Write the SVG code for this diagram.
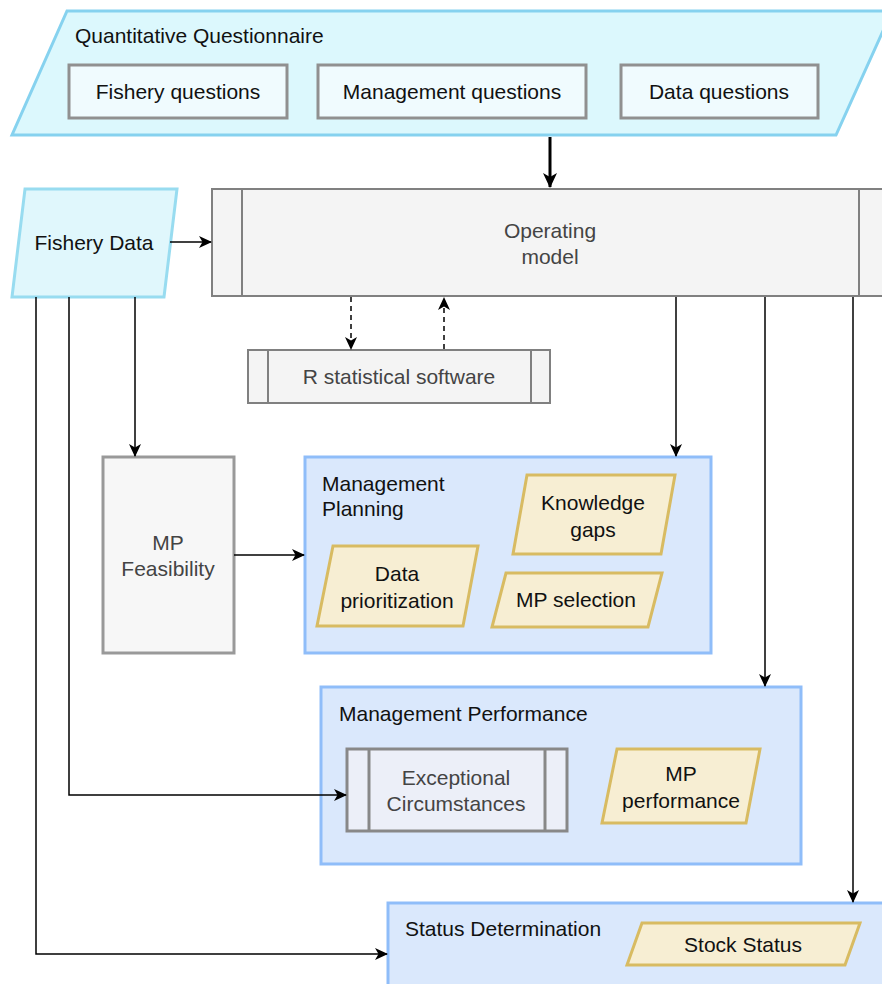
<svg xmlns="http://www.w3.org/2000/svg" width="882" height="984" viewBox="0 0 882 984">
<style>
text{font-family:"Liberation Sans",Arial,sans-serif;font-size:21px;fill:#111}
.c{text-anchor:middle}
.g{fill:#444}
.qbox{fill:#f0fbfe;stroke:#909090;stroke-width:3}
.sub{fill:#f4f4f4;stroke:#808080;stroke-width:2}
.blue{fill:#dae8fc;stroke:#8fbdf9;stroke-width:3}
.yel{fill:#f7eed3;stroke:#d8bb62;stroke-width:3}
.cyan{fill:#dcf8fd;stroke:#86d2ef;stroke-width:3}
.ln{fill:none;stroke:#000;stroke-width:1.5}
</style>
<defs>
<marker id="ah" markerWidth="14" markerHeight="12" refX="12" refY="6" orient="auto" markerUnits="userSpaceOnUse">
<path d="M0,0 L13,6 L0,12 L3.5,6 z" fill="#000"/>
</marker>
<marker id="ahb" markerWidth="16" markerHeight="14" refX="14" refY="7" orient="auto" markerUnits="userSpaceOnUse">
<path d="M0,0 L15,7 L0,14 L4,7 z" fill="#000"/>
</marker>
</defs>
<g id="questionnaire">
<polygon class="cyan" points="67,11 892,11 836,135 12,135"/>
<text x="75" y="43">Quantitative Questionnaire</text>
</g>
<g id="fishery-questions"><rect class="qbox" x="69" y="65" width="218" height="53"/><text class="c" x="178" y="98.5">Fishery questions</text></g>
<g id="management-questions"><rect class="qbox" x="318" y="65" width="268" height="53"/><text class="c" x="452" y="98.5">Management questions</text></g>
<g id="data-questions"><rect class="qbox" x="621" y="65" width="197" height="53"/><text class="c" x="719" y="98.5">Data questions</text></g>
<g id="fishery-data">
<polygon class="cyan" points="25,189 177,189 164,297 12,297" style="fill:#e0f7fc;stroke:#98dcf0"/>
<text x="94" y="249.5" class="c">Fishery Data</text>
</g>
<g id="operating-model">
<rect class="sub" x="212" y="189" width="690" height="107"/>
<line x1="242" y1="189" x2="242" y2="296" stroke="#808080" stroke-width="2"/>
<line x1="859" y1="189" x2="859" y2="296" stroke="#808080" stroke-width="2"/>
<text class="c g" x="550" y="237.5">Operating</text>
<text class="c g" x="550" y="263.5">model</text>
</g>
<g id="r-software">
<rect class="sub" x="248" y="350" width="302" height="53"/>
<line x1="268" y1="350" x2="268" y2="403" stroke="#808080" stroke-width="2"/>
<line x1="531" y1="350" x2="531" y2="403" stroke="#808080" stroke-width="2"/>
<text class="c g" x="399" y="383.5">R statistical software</text>
</g>
<g id="mp-feasibility">
<rect x="103" y="457" width="131" height="196" fill="#f7f7f7" stroke="#999" stroke-width="3"/>
<text class="c g" x="168" y="549.5">MP</text>
<text class="c g" x="168" y="575.5">Feasibility</text>
</g>
<g id="management-planning">
<rect class="blue" x="305" y="457" width="406" height="196"/>
<text x="322" y="490.5">Management</text>
<text x="322" y="515.5">Planning</text>
</g>
<g id="knowledge-gaps"><polygon class="yel" points="527,475 675,475 661,554 513,554"/><text class="c" x="593" y="509.5">Knowledge</text><text class="c" x="593" y="536.5">gaps</text></g>
<g id="data-prioritization"><polygon class="yel" points="333,546 478,546 463,626 317,626"/><text class="c" x="397" y="580.5">Data</text><text class="c" x="397" y="607.5">prioritization</text></g>
<g id="mp-selection"><polygon class="yel" points="506,573 662,573 648,627 492,627"/><text class="c" x="576" y="606.5">MP selection</text></g>
<g id="management-performance">
<rect class="blue" x="321" y="687" width="480" height="177"/>
<text x="339" y="720.5">Management Performance</text>
</g>
<g id="exceptional-circumstances">
<rect x="347" y="749" width="220" height="82" fill="#eceff8" stroke="#888" stroke-width="3"/>
<line x1="369" y1="749" x2="369" y2="831" stroke="#888" stroke-width="3"/>
<line x1="545" y1="749" x2="545" y2="831" stroke="#888" stroke-width="3"/>
<text class="c g" x="456" y="784.5">Exceptional</text>
<text class="c g" x="456" y="810.5">Circumstances</text>
</g>
<g id="mp-performance"><polygon class="yel" points="617,749 760,749 746,823 602,823"/><text class="c" x="681" y="780.5">MP</text><text class="c" x="681" y="807.5">performance</text></g>
<g id="status-determination">
<rect class="blue" x="388" y="903" width="510" height="100"/>
<text x="405" y="935.5">Status Determination</text>
</g>
<g id="stock-status"><polygon class="yel" points="642,923 860,923 845,965 627,965"/><text class="c" x="743" y="951.5">Stock Status</text></g>
<g id="connectors">
<line x1="550" y1="137" x2="550" y2="187" stroke="#000" stroke-width="3" marker-end="url(#ahb)"/>
<line class="ln" x1="170" y1="242" x2="211" y2="242" marker-end="url(#ah)"/>
<line class="ln" x1="351" y1="297" x2="351" y2="349" stroke-dasharray="5,4" marker-end="url(#ah)"/>
<line class="ln" x1="444" y1="349" x2="444" y2="298" stroke-dasharray="5,4" marker-end="url(#ah)"/>
<line class="ln" x1="135" y1="297" x2="135" y2="456" marker-end="url(#ah)"/>
<line class="ln" x1="234" y1="555" x2="304" y2="555" marker-end="url(#ah)"/>
<line class="ln" x1="676" y1="297" x2="676" y2="456" marker-end="url(#ah)"/>
<line class="ln" x1="765" y1="297" x2="765" y2="686" marker-end="url(#ah)"/>
<line class="ln" x1="853" y1="297" x2="853" y2="902" marker-end="url(#ah)"/>
<polyline class="ln" points="69,297 69,795 346,795" marker-end="url(#ah)"/>
<polyline class="ln" points="36,297 36,954 387,954" marker-end="url(#ah)"/>
</g>
</svg>
